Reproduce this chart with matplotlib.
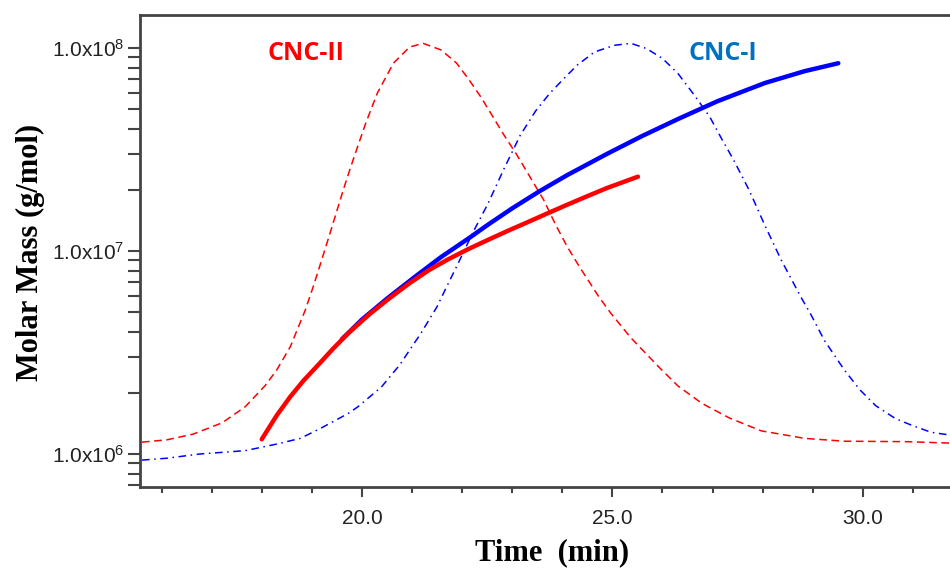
import matplotlib
matplotlib.use("Agg")
import matplotlib.pyplot as plt
import numpy as np
from matplotlib.ticker import FixedLocator, MultipleLocator, LogLocator, FuncFormatter, NullFormatter

# molar mass from MALS (log10 of g/mol)
CNC2_T = [18.0, 18.30, 18.57, 18.83, 19.17, 19.43, 19.73, 20.15, 20.55, 20.95, 21.34, 21.73,
          22.13, 22.52, 22.92, 23.31, 23.71, 24.10, 24.50, 24.89, 25.51]
CNC2_LOGM = [6.072, 6.190, 6.282, 6.360, 6.450, 6.520, 6.595, 6.688, 6.767, 6.841, 6.906, 6.960,
             7.010, 7.055, 7.100, 7.142, 7.186, 7.228, 7.270, 7.310, 7.366]

CNC1_T = [19.6, 20.0, 20.5, 21.06, 21.58, 22.13, 22.52, 23.0, 23.55, 24.10, 24.89, 25.60,
          26.31, 27.10, 28.05, 28.84, 29.51]
CNC1_LOGM = [6.565, 6.662, 6.765, 6.873, 6.970, 7.062, 7.130, 7.210, 7.295, 7.374, 7.478, 7.567,
             7.650, 7.738, 7.828, 7.886, 7.925]

# detector signal (relative units)
SIG2_T = [15.61, 16.11, 16.63, 17.21, 17.67, 18.07, 18.30, 18.57, 18.87, 19.03, 19.20, 19.37,
          19.50, 19.63, 19.73, 19.84, 20.08, 20.31, 20.63, 20.95, 21.22, 21.58, 21.89, 22.13,
          22.37, 22.60, 22.84, 23.08, 23.31, 23.63, 23.87, 24.10, 24.34, 24.73, 24.97, 25.37,
          25.92, 26.31, 26.79, 27.34, 27.97, 28.84, 29.63, 30.89, 31.74]
SIG2_V = [0.095, 0.100, 0.112, 0.136, 0.170, 0.215, 0.248, 0.297, 0.375, 0.425, 0.482, 0.540,
          0.585, 0.630, 0.663, 0.698, 0.772, 0.835, 0.898, 0.932, 0.940, 0.926, 0.898, 0.864,
          0.827, 0.787, 0.745, 0.706, 0.665, 0.608, 0.555, 0.509, 0.467, 0.403, 0.368, 0.316,
          0.255, 0.214, 0.177, 0.146, 0.119, 0.103, 0.097, 0.096, 0.093]

SIG1_T = [15.61, 16.11, 16.77, 17.67, 18.30, 18.77, 19.17, 19.73, 19.92, 20.39, 20.75, 21.18,
          21.50, 21.69, 21.89, 22.21, 22.52, 22.84, 23.16, 23.47, 23.75, 24.02, 24.30, 24.65,
          25.05, 25.37, 25.68, 26.00, 26.31, 26.63, 26.94, 27.18, 27.42, 27.73, 28.05, 28.37,
          28.76, 28.96, 29.23, 29.63, 29.94, 30.26, 30.65, 30.97, 31.36, 31.74]
SIG1_V = [0.057, 0.061, 0.070, 0.077, 0.091, 0.103, 0.124, 0.156, 0.170, 0.212, 0.258, 0.326,
          0.382, 0.424, 0.467, 0.538, 0.601, 0.675, 0.745, 0.797, 0.834, 0.864, 0.894, 0.922,
          0.936, 0.940, 0.929, 0.908, 0.876, 0.831, 0.785, 0.738, 0.693, 0.629, 0.553, 0.481,
          0.403, 0.366, 0.311, 0.248, 0.206, 0.172, 0.145, 0.131, 0.116, 0.110]

X_MAJOR = [20, 25, 30]
Y_MAJOR = [1e6, 1e7, 1e8]

RED = "#ff0000"
BLUE = "#0000ff"
AX_COL = "#444444"

plt.rcParams["mathtext.fontset"] = "custom"
plt.rcParams["mathtext.rm"] = "Liberation Sans"
plt.rcParams["mathtext.it"] = "Liberation Sans"

fig = plt.figure(figsize=(9.5, 5.71), dpi=100)
ax = fig.add_axes([140 / 950, 1 - 487 / 571, 1 - 140 / 950, (487 - 15) / 571])

# signal curves on a hidden linear axis
ax2 = ax.twinx()
ax2.plot(SIG2_T, SIG2_V, color=RED, lw=1.1, ls=(0, (5, 3)))
ax2.plot(SIG1_T, SIG1_V, color=BLUE, lw=1.1, ls=(0, (5, 3, 1, 3)))
ax2.set_ylim(0, 1)
ax2.axis("off")

ax.set_zorder(ax2.get_zorder() + 1)
ax.patch.set_visible(False)
ax.plot(CNC1_T, 10 ** np.array(CNC1_LOGM), color=BLUE, lw=3.2, solid_capstyle="round")
ax.plot(CNC2_T, 10 ** np.array(CNC2_LOGM), color=RED, lw=3.2, solid_capstyle="round")

ax.set_yscale("log")
ax.set_xlim(15.57, 31.74)
ax.set_ylim(10 ** 5.837, 10 ** 8.1626)

ax.xaxis.set_major_locator(FixedLocator(X_MAJOR))
ax.xaxis.set_minor_locator(MultipleLocator(1))
ax.xaxis.set_major_formatter(FuncFormatter(lambda v, p: f"{v:.1f}"))
ax.yaxis.set_major_locator(FixedLocator(Y_MAJOR))
ax.yaxis.set_minor_locator(LogLocator(base=10, subs=np.arange(2, 10)))
ax.yaxis.set_minor_formatter(NullFormatter())
ax.yaxis.set_major_formatter(FuncFormatter(lambda v, p: r"1.0x10$^{%d}$" % round(np.log10(v))))

ax.tick_params(axis="x", which="major", length=7, width=1.5, color=AX_COL, pad=9,
               labelsize=15, labelcolor="#222222")
ax.tick_params(axis="x", which="minor", length=4, width=1.5, color=AX_COL)
ax.tick_params(axis="y", which="both", length=9, width=1.5, color=AX_COL, pad=2,
               labelsize=15, labelcolor="#222222")
for lab in ax.get_xticklabels() + ax.get_yticklabels():
    lab.set_fontfamily("Liberation Sans")

for side in ["left", "top", "bottom"]:
    ax.spines[side].set_color(AX_COL)
    ax.spines[side].set_linewidth(2)
ax.spines["right"].set_visible(False)

fig.text(30 / 950, 1 - 252 / 571, "Molar Mass (g/mol)", rotation=90, ha="center", va="center",
         fontsize=22, fontweight="bold", fontfamily="Liberation Serif")
fig.text(552 / 950, 1 - 553 / 571, "Time  (min)", ha="center", va="center",
         fontsize=22, fontweight="bold", fontfamily="Liberation Serif")

ax.text(18.89, 10 ** (6 + (454 - 54) / 203), "CNC-II", color=RED, fontsize=18, fontweight="bold",
        fontfamily="Open Sans", ha="center", va="center")
ax.text(27.21, 10 ** (6 + (454 - 54) / 203), "CNC-I", color="#0070c0", fontsize=18, fontweight="bold",
        fontfamily="Open Sans", ha="center", va="center")

fig.savefig("out.png", dpi=100)
